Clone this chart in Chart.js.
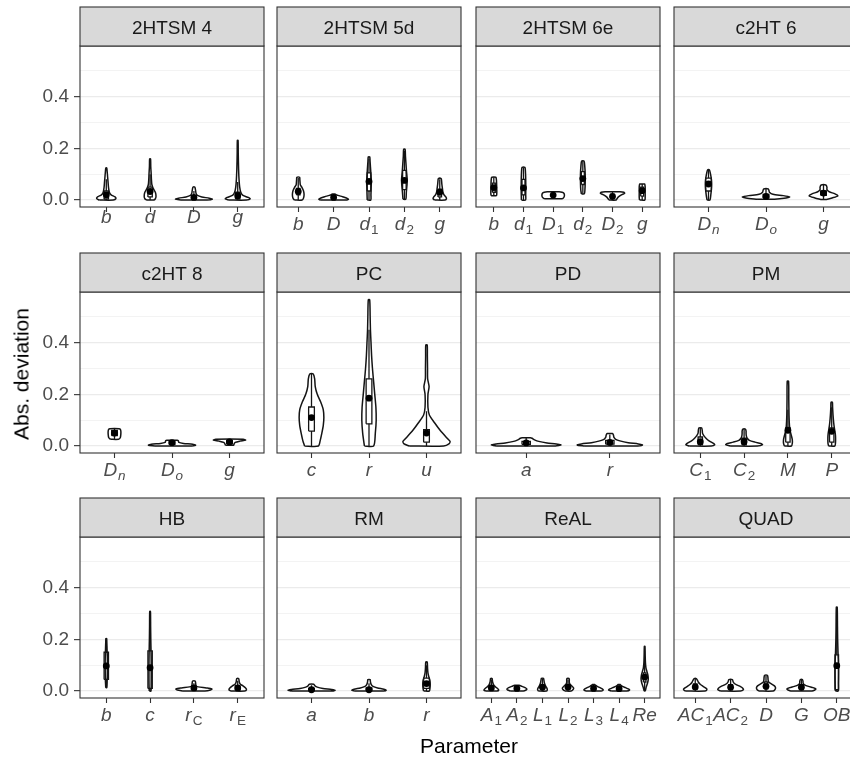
<!DOCTYPE html>
<html>
<head>
<meta charset="utf-8">
<script src="https://cdn.jsdelivr.net/npm/chart.js@4.4.1/dist/chart.umd.min.js"></script>
<style>
  html, body { margin: 0; padding: 0; background: #fff; }
  body { width: 850px; height: 757px; position: relative; overflow: hidden; font-family: "Liberation Sans", Arial, sans-serif; }
  canvas.panel { position: absolute; }
  .axis-title { position: absolute; font-size: 21px; line-height: 21px; color: #000; white-space: nowrap; }
  #xTitle { left: 469px; top: 745px; transform: translate(-50%, -50%); }
  #yTitle { left: 20.5px; top: 373.5px; transform: translate(-50%, -50%) rotate(-90deg); }
</style>
</head>
<body>
<div id="charts"></div>
<div class="axis-title" id="xTitle">Parameter</div>
<div class="axis-title" id="yTitle">Abs. deviation</div>
<script>
// Facet titles and parameter labels ("_" starts a subscript)
const panelTitles = ['2HTSM 4', '2HTSM 5d', '2HTSM 6e', 'c2HT 6', 'c2HT 8', 'PC', 'PD', 'PM', 'HB', 'RM', 'ReAL', 'QUAD'];
const paramLabels = [
    ['b', 'd', 'D', 'g'],
    ['b', 'D', 'd_1', 'd_2', 'g'],
    ['b', 'd_1', 'D_1', 'd_2', 'D_2', 'g'],
    ['D_n', 'D_o', 'g'],
    ['D_n', 'D_o', 'g'],
    ['c', 'r', 'u'],
    ['a', 'r'],
    ['C_1', 'C_2', 'M', 'P'],
    ['b', 'c', 'r_C', 'r_E'],
    ['a', 'b', 'r'],
    ['A_1', 'A_2', 'L_1', 'L_2', 'L_3', 'L_4', 'Re'],
    ['AC_1', 'AC_2', 'D', 'G', 'OB']
];

// Median points
const medians = [
    [0.02, 0.033, 0.01, 0.017],
    [0.033, 0.01, 0.072, 0.076, 0.03],
    [0.048, 0.047, 0.019, 0.083, 0.014, 0.036],
    [0.062, 0.014, 0.027],
    [0.05, 0.013, 0.016],
    [0.11, 0.185, 0.05],
    [0.012, 0.014],
    [0.017, 0.017, 0.061, 0.057],
    [0.097, 0.09, 0.012, 0.012],
    [0.005, 0.005, 0.029],
    [0.012, 0.01, 0.015, 0.015, 0.01, 0.009, 0.054],
    [0.016, 0.015, 0.018, 0.015, 0.098]
];

// Box limits (lower / upper quartile)
const boxLower = [
    [0.004, 0.012, 0.003, 0.004],
    [0.02, 0.004, 0.035, 0.04, 0.012],
    [0.03, 0.02, 0.012, 0.06, 0.008, 0.015],
    [0.035, 0.008, 0.018],
    [0.04, 0.006, 0.008],
    [0.058, 0.086, 0.015],
    [0.006, 0.007],
    [0.005, 0.005, 0.015, 0.015],
    [0.045, 0.01, 0.004, 0.003],
    [0.002, 0.002, 0.01],
    [0.004, 0.005, 0.005, 0.008, 0.004, 0.004, 0.035],
    [0.006, 0.005, 0.008, 0.005, 0.005]
];
const boxUpper = [
    [0.035, 0.05, 0.016, 0.03],
    [0.045, 0.015, 0.105, 0.115, 0.042],
    [0.065, 0.08, 0.025, 0.11, 0.022, 0.05],
    [0.085, 0.022, 0.035],
    [0.06, 0.018, 0.022],
    [0.151, 0.26, 0.063],
    [0.018, 0.022],
    [0.035, 0.03, 0.07, 0.07],
    [0.15, 0.155, 0.015, 0.02],
    [0.01, 0.012, 0.05],
    [0.02, 0.015, 0.025, 0.025, 0.015, 0.014, 0.07],
    [0.028, 0.025, 0.035, 0.025, 0.14]
];

// Whisker ends
const whiskerLower = [
    [0, 0, 0, 0],
    [0, 0, 0, 0.003, 0],
    [0.017, 0, 0.005, 0.024, 0, 0],
    [0, 0.003, 0.002],
    [0.026, 0, 0.003],
    [0, 0, 0],
    [0, 0],
    [0, 0, 0, 0],
    [0.013, 0, 0, 0],
    [0, 0, 0],
    [0, 0, 0, 0, 0, 0, 0],
    [0, 0, 0, 0, 0]
];
const whiskerUpper = [
    [0.08, 0.1, 0.035, 0.07],
    [0.085, 0.023, 0.16, 0.19, 0.08],
    [0.088, 0.126, 0.032, 0.151, 0.032, 0.062],
    [0.117, 0.043, 0.058],
    [0.067, 0.022, 0.026],
    [0.279, 0.45, 0.135],
    [0.032, 0.045],
    [0.07, 0.065, 0.14, 0.15],
    [0.203, 0.308, 0.03, 0.04],
    [0.022, 0.03, 0.1],
    [0.045, 0.022, 0.048, 0.045, 0.025, 0.025, 0.12],
    [0.048, 0.044, 0.06, 0.044, 0.3]
];

// Violin outlines: [value, half width in category units]
const violins2HTSM4 = [
    [[0, 0.16], [0.005, 0.22], [0.012, 0.2], [0.02, 0.11], [0.03, 0.07], [0.05, 0.05], [0.07, 0.04], [0.09, 0.03], [0.11, 0.02], [0.124, 0.01]],
    [[0, 0.08], [0.005, 0.12], [0.015, 0.135], [0.03, 0.12], [0.045, 0.07], [0.06, 0.04], [0.08, 0.03], [0.1, 0.025], [0.13, 0.015], [0.159, 0.01]],
    [[0, 0.3], [0.003, 0.42], [0.007, 0.35], [0.012, 0.18], [0.018, 0.08], [0.025, 0.05], [0.035, 0.04], [0.045, 0.03], [0.05, 0.02]],
    [[0, 0.2], [0.005, 0.285], [0.01, 0.24], [0.018, 0.12], [0.03, 0.07], [0.05, 0.045], [0.08, 0.03], [0.12, 0.02], [0.18, 0.012], [0.231, 0.008]]
];
const violins2HTSM5d = [
    [[0, 0.11], [0.008, 0.15], [0.02, 0.165], [0.035, 0.15], [0.05, 0.1], [0.058, 0.06], [0.07, 0.05], [0.08, 0.045], [0.088, 0.04]],
    [[0, 0.38], [0.003, 0.42], [0.008, 0.36], [0.013, 0.25], [0.018, 0.12], [0.023, 0.03]],
    [[0, 0.05], [0.02, 0.055], [0.045, 0.06], [0.07, 0.066], [0.1, 0.055], [0.13, 0.04], [0.15, 0.03], [0.167, 0.02]],
    [[0.003, 0.04], [0.03, 0.055], [0.06, 0.075], [0.08, 0.08], [0.11, 0.06], [0.14, 0.045], [0.17, 0.03], [0.197, 0.02]],
    [[0, 0.15], [0.006, 0.19], [0.012, 0.17], [0.02, 0.12], [0.03, 0.09], [0.045, 0.075], [0.06, 0.06], [0.075, 0.05], [0.083, 0.04]]
];
const violins2HTSM6e = [
    [[0.017, 0.09], [0.025, 0.1], [0.04, 0.1], [0.06, 0.095], [0.075, 0.09], [0.085, 0.08], [0.088, 0.07]],
    [[0, 0.07], [0.02, 0.075], [0.05, 0.078], [0.08, 0.075], [0.1, 0.07], [0.12, 0.06], [0.126, 0.05]],
    [[0.005, 0.3], [0.01, 0.36], [0.018, 0.38], [0.026, 0.36], [0.03, 0.3], [0.032, 0.2]],
    [[0.024, 0.05], [0.04, 0.07], [0.07, 0.08], [0.1, 0.08], [0.13, 0.065], [0.151, 0.04]],
    [[0, 0.12], [0.005, 0.15], [0.012, 0.2], [0.02, 0.3], [0.026, 0.41], [0.03, 0.38], [0.032, 0.25]],
    [[0, 0.09], [0.01, 0.1], [0.03, 0.1], [0.05, 0.1], [0.06, 0.09], [0.062, 0.08]]
];
const violinsC2HT6 = [
    [[0, 0.025], [0.02, 0.04], [0.04, 0.05], [0.06, 0.055], [0.08, 0.05], [0.1, 0.035], [0.117, 0.015]],
    [[0.003, 0.15], [0.008, 0.35], [0.012, 0.41], [0.017, 0.3], [0.022, 0.12], [0.03, 0.06], [0.038, 0.05], [0.043, 0.04]],
    [[0.002, 0.05], [0.008, 0.15], [0.016, 0.25], [0.024, 0.2], [0.032, 0.1], [0.04, 0.06], [0.05, 0.06], [0.058, 0.04]]
];
const violinsC2HT8 = [
    [[0.026, 0.07], [0.032, 0.1], [0.045, 0.11], [0.058, 0.11], [0.065, 0.1], [0.067, 0.08]],
    [[0, 0.3], [0.003, 0.41], [0.007, 0.36], [0.01, 0.2], [0.014, 0.12], [0.02, 0.11], [0.022, 0.09]],
    [[0.003, 0.07], [0.008, 0.08], [0.014, 0.1], [0.019, 0.18], [0.023, 0.28], [0.026, 0.24]]
];
const violinsPC = [
    [[0, 0.12], [0.02, 0.15], [0.05, 0.18], [0.08, 0.205], [0.11, 0.215], [0.14, 0.205], [0.17, 0.16], [0.2, 0.1], [0.23, 0.065], [0.26, 0.055], [0.279, 0.03]],
    [[0, 0.08], [0.05, 0.11], [0.1, 0.125], [0.15, 0.12], [0.2, 0.1], [0.25, 0.08], [0.3, 0.06], [0.35, 0.045], [0.4, 0.035], [0.45, 0.025], [0.5, 0.02], [0.566, 0.012]],
    [[0, 0.3], [0.008, 0.39], [0.018, 0.41], [0.03, 0.36], [0.06, 0.24], [0.09, 0.14], [0.12, 0.05], [0.15, 0.025], [0.2, 0.025], [0.23, 0.045], [0.26, 0.02], [0.3, 0.018], [0.35, 0.015], [0.391, 0.012]]
];
const violinsPD = [
    [[0, 0.35], [0.004, 0.417], [0.008, 0.36], [0.012, 0.25], [0.018, 0.15], [0.024, 0.1], [0.03, 0.07], [0.032, 0.05]],
    [[0, 0.3], [0.004, 0.39], [0.008, 0.34], [0.013, 0.22], [0.02, 0.12], [0.026, 0.07], [0.033, 0.05], [0.04, 0.045], [0.045, 0.04], [0.048, 0.03]]
];
const violinsPM = [
    [[0, 0.25], [0.005, 0.33], [0.01, 0.3], [0.02, 0.2], [0.03, 0.13], [0.04, 0.08], [0.05, 0.05], [0.06, 0.045], [0.07, 0.03]],
    [[0, 0.3], [0.005, 0.42], [0.01, 0.38], [0.015, 0.25], [0.022, 0.12], [0.03, 0.07], [0.04, 0.05], [0.05, 0.045], [0.058, 0.045], [0.065, 0.03]],
    [[0, 0.08], [0.01, 0.1], [0.025, 0.1], [0.04, 0.08], [0.06, 0.05], [0.08, 0.035], [0.12, 0.025], [0.18, 0.02], [0.251, 0.015]],
    [[0, 0.07], [0.01, 0.085], [0.03, 0.088], [0.05, 0.08], [0.07, 0.06], [0.09, 0.045], [0.12, 0.03], [0.15, 0.02], [0.17, 0.015]]
];
const violinsHB = [
    [[0.013, 0.012], [0.04, 0.02], [0.07, 0.024], [0.1, 0.025], [0.13, 0.024], [0.16, 0.018], [0.19, 0.012], [0.203, 0.008]],
    [[0, 0.02], [0.03, 0.025], [0.06, 0.026], [0.09, 0.026], [0.12, 0.025], [0.15, 0.022], [0.2, 0.016], [0.25, 0.012], [0.308, 0.008]],
    [[0, 0.25], [0.004, 0.38], [0.008, 0.41], [0.012, 0.28], [0.016, 0.1], [0.02, 0.05], [0.03, 0.04], [0.038, 0.03]],
    [[0, 0.16], [0.005, 0.2], [0.012, 0.18], [0.02, 0.12], [0.026, 0.06], [0.035, 0.035], [0.042, 0.03], [0.048, 0.02]]
];
const violinsRM = [
    [[0, 0.35], [0.003, 0.41], [0.006, 0.35], [0.01, 0.2], [0.015, 0.1], [0.02, 0.06], [0.026, 0.04]],
    [[0, 0.25], [0.003, 0.3], [0.007, 0.26], [0.012, 0.15], [0.018, 0.07], [0.025, 0.04], [0.035, 0.025], [0.044, 0.02]],
    [[0, 0.05], [0.01, 0.06], [0.025, 0.065], [0.04, 0.06], [0.055, 0.04], [0.07, 0.025], [0.09, 0.018], [0.112, 0.012]]
];
const violinsReAL = [
    [[0, 0.22], [0.004, 0.29], [0.01, 0.24], [0.018, 0.14], [0.026, 0.08], [0.035, 0.05], [0.042, 0.04], [0.048, 0.03]],
    [[0, 0.25], [0.004, 0.36], [0.008, 0.39], [0.013, 0.32], [0.018, 0.2], [0.022, 0.08]],
    [[0, 0.16], [0.005, 0.19], [0.012, 0.17], [0.02, 0.12], [0.03, 0.08], [0.04, 0.06], [0.049, 0.04]],
    [[0, 0.12], [0.006, 0.2], [0.012, 0.22], [0.02, 0.14], [0.028, 0.07], [0.035, 0.05], [0.045, 0.05], [0.049, 0.035]],
    [[0, 0.3], [0.004, 0.38], [0.008, 0.34], [0.013, 0.25], [0.018, 0.14], [0.022, 0.08], [0.025, 0.04]],
    [[0, 0.3], [0.004, 0.41], [0.008, 0.36], [0.013, 0.25], [0.018, 0.13], [0.022, 0.07], [0.025, 0.04]],
    [[0, 0.02], [0.015, 0.06], [0.03, 0.11], [0.045, 0.14], [0.06, 0.13], [0.075, 0.09], [0.09, 0.05], [0.11, 0.03], [0.14, 0.02], [0.173, 0.012]]
];
const violinsQUAD = [
    [[0, 0.28], [0.005, 0.33], [0.01, 0.31], [0.018, 0.22], [0.026, 0.14], [0.034, 0.09], [0.042, 0.06], [0.048, 0.03]],
    [[0, 0.28], [0.005, 0.36], [0.01, 0.35], [0.017, 0.28], [0.024, 0.17], [0.03, 0.1], [0.036, 0.07], [0.044, 0.05]],
    [[0, 0.2], [0.005, 0.25], [0.012, 0.27], [0.02, 0.24], [0.028, 0.15], [0.034, 0.08], [0.042, 0.06], [0.052, 0.055], [0.061, 0.04]],
    [[0, 0.3], [0.004, 0.38], [0.008, 0.41], [0.013, 0.33], [0.018, 0.2], [0.024, 0.09], [0.03, 0.05], [0.038, 0.045], [0.044, 0.03]],
    [[0, 0.04], [0.03, 0.047], [0.06, 0.05], [0.09, 0.05], [0.12, 0.045], [0.15, 0.035], [0.2, 0.025], [0.25, 0.02], [0.325, 0.012]]
];
const violinShapes = [violins2HTSM4, violins2HTSM5d, violins2HTSM6e, violinsC2HT6, violinsC2HT8, violinsPC,
    violinsPD, violinsPM, violinsHB, violinsRM, violinsReAL, violinsQUAD];

const yTickValues = [0, 0.1, 0.2, 0.3, 0.4, 0.5];
const yMajorTicks = [0, 0.2, 0.4];
const Y_MIN = -0.027, Y_MAX = 0.596;

// Layout
const PANEL_W = 184, PLOT_H = 161, STRIP_H = 39;
const colLefts = [80, 277, 476, 674];
const rowTops = [7, 253, 498];
const LEFT_PAD = 80, RIGHT_PAD = 4, TOP_PAD = 1, BOTTOM_PAD = 40;
const BOX_HALF = 0.05;
const FONT = '"Liberation Sans", Arial, sans-serif';
const INK = '#141414';

function violinOutline(i, profile) {
    const left = profile.map(([y, w]) => ({ x: i - w, y }));
    const right = profile.slice().reverse().map(([y, w]) => ({ x: i + w, y }));
    return [...left, ...right, left[0]];
}

function drawParamLabel(ctx, label, x, y) {
    const [main, sub] = label.split('_');
    const mainFont = `italic 19px ${FONT}`;
    const subFont = `${sub && /[a-z]/.test(sub) ? 'italic ' : ''}13.5px ${FONT}`;
    ctx.font = mainFont;
    const mw = ctx.measureText(main).width;
    let sw = 0;
    if (sub) {
        ctx.font = subFont;
        sw = ctx.measureText(sub).width + 1;
    }
    const x0 = x - (mw + sw) / 2;
    ctx.fillStyle = '#4d4d4d';
    ctx.textAlign = 'left';
    ctx.textBaseline = 'alphabetic';
    ctx.font = mainFont;
    ctx.fillText(main, x0, y);
    if (sub) {
        ctx.font = subFont;
        ctx.fillText(sub, x0 + mw + 1, y + 4);
    }
}

const panelDecor = {
    id: 'panelDecor',
    afterDraw(chart, args, opts) {
        const { ctx, chartArea: a, scales } = chart;
        ctx.save();
        // panel border
        ctx.strokeStyle = '#333333';
        ctx.lineWidth = 1.1;
        ctx.strokeRect(a.left, a.top, a.right - a.left, a.bottom - a.top);
        // strip
        ctx.fillStyle = '#d9d9d9';
        ctx.fillRect(a.left, a.top - STRIP_H, a.right - a.left, STRIP_H);
        ctx.strokeRect(a.left, a.top - STRIP_H, a.right - a.left, STRIP_H);
        ctx.fillStyle = '#1a1a1a';
        ctx.font = `19px ${FONT}`;
        ctx.textAlign = 'center';
        ctx.textBaseline = 'alphabetic';
        ctx.fillText(opts.title, (a.left + a.right) / 2, a.top - STRIP_H + 27);
        // parameter labels under the ticks
        opts.labels.forEach((lab, i) => {
            drawParamLabel(ctx, lab, scales.x.getPixelForValue(i), a.bottom + opts.labelOffset);
        });
        ctx.restore();
    }
};

const holder = document.getElementById('charts');

panelTitles.forEach((title, p) => {
    const row = Math.floor(p / 4), col = p % 4;
    const labels = paramLabels[p];
    const n = labels.length;
    const w = LEFT_PAD + PANEL_W + RIGHT_PAD;
    const h = TOP_PAD + STRIP_H + PLOT_H + BOTTOM_PAD;

    const canvas = document.createElement('canvas');
    canvas.className = 'panel';
    canvas.width = w;
    canvas.height = h;
    canvas.style.left = (colLefts[col] - LEFT_PAD) + 'px';
    canvas.style.top = (rowTops[row] - TOP_PAD) + 'px';
    canvas.style.width = w + 'px';
    canvas.style.height = h + 'px';
    holder.appendChild(canvas);

    const datasets = [];
    violinShapes[p].forEach((profile, i) => {
        datasets.push({
            data: violinOutline(i, profile),
            showLine: true,
            borderColor: INK,
            borderWidth: 1.5,
            backgroundColor: '#ffffff',
            fill: 'shape',
            tension: 0.25,
            pointRadius: 0,
            order: 4
        });
    });

    const whiskerData = [];
    const boxData = [];
    labels.forEach((_, i) => {
        whiskerData.push({ x: i, y: whiskerLower[p][i] }, { x: i, y: boxLower[p][i] }, { x: i, y: null },
            { x: i, y: boxUpper[p][i] }, { x: i, y: whiskerUpper[p][i] }, { x: i, y: null });
        boxData.push({ x: i - BOX_HALF, y: boxLower[p][i] }, { x: i + BOX_HALF, y: boxLower[p][i] },
            { x: i + BOX_HALF, y: boxUpper[p][i] }, { x: i - BOX_HALF, y: boxUpper[p][i] },
            { x: i - BOX_HALF, y: boxLower[p][i] }, { x: i, y: null });
    });
    datasets.push({ data: whiskerData, showLine: true, borderColor: INK, borderWidth: 1.3, pointRadius: 0, spanGaps: false, order: 3 });
    datasets.push({ data: boxData, showLine: true, borderColor: INK, borderWidth: 1.3, pointRadius: 0, spanGaps: false, fill: false, order: 2 });
    datasets.push({
        data: medians[p].map((v, i) => ({ x: i, y: v })),
        showLine: false,
        pointRadius: 3.4,
        pointBackgroundColor: '#000',
        pointBorderWidth: 0,
        order: 1
    });

    new Chart(canvas, {
        type: 'scatter',
        data: { datasets },
        options: {
            responsive: false,
            animation: false,
            devicePixelRatio: 1,
            events: [],
            layout: { padding: { top: TOP_PAD + STRIP_H, right: RIGHT_PAD, left: 0, bottom: 0 } },
            plugins: {
                legend: { display: false },
                tooltip: { enabled: false },
                panelDecor: { title, labels, labelOffset: p === 0 ? 16 : 23 }
            },
            scales: {
                x: {
                    type: 'linear',
                    min: -0.6,
                    max: n - 0.4,
                    afterBuildTicks: s => { s.ticks = labels.map((_, i) => ({ value: i })); },
                    afterFit: s => { s.height = BOTTOM_PAD; },
                    ticks: { display: false },
                    grid: { drawOnChartArea: false, drawTicks: true, tickLength: 5, tickColor: '#333333', tickWidth: 1.1 },
                    border: { display: false }
                },
                y: {
                    min: Y_MIN,
                    max: Y_MAX,
                    afterBuildTicks: s => { s.ticks = yTickValues.map(v => ({ value: v })); },
                    afterFit: s => { s.width = LEFT_PAD; },
                    ticks: {
                        display: col === 0,
                        callback: v => yMajorTicks.includes(v) ? v.toFixed(1) : '',
                        color: '#4d4d4d',
                        font: { size: 19, family: FONT },
                        padding: 5
                    },
                    grid: {
                        color: '#ebebeb',
                        lineWidth: c => (c.tick && yMajorTicks.includes(c.tick.value)) ? 1.3 : 0.6,
                        drawTicks: col === 0,
                        tickLength: 6,
                        tickColor: c => (c.tick && yMajorTicks.includes(c.tick.value)) ? '#333333' : 'rgba(0,0,0,0)',
                        tickWidth: 1.1
                    },
                    border: { display: false }
                }
            }
        },
        plugins: [panelDecor]
    });
});
</script>
</body>
</html>
